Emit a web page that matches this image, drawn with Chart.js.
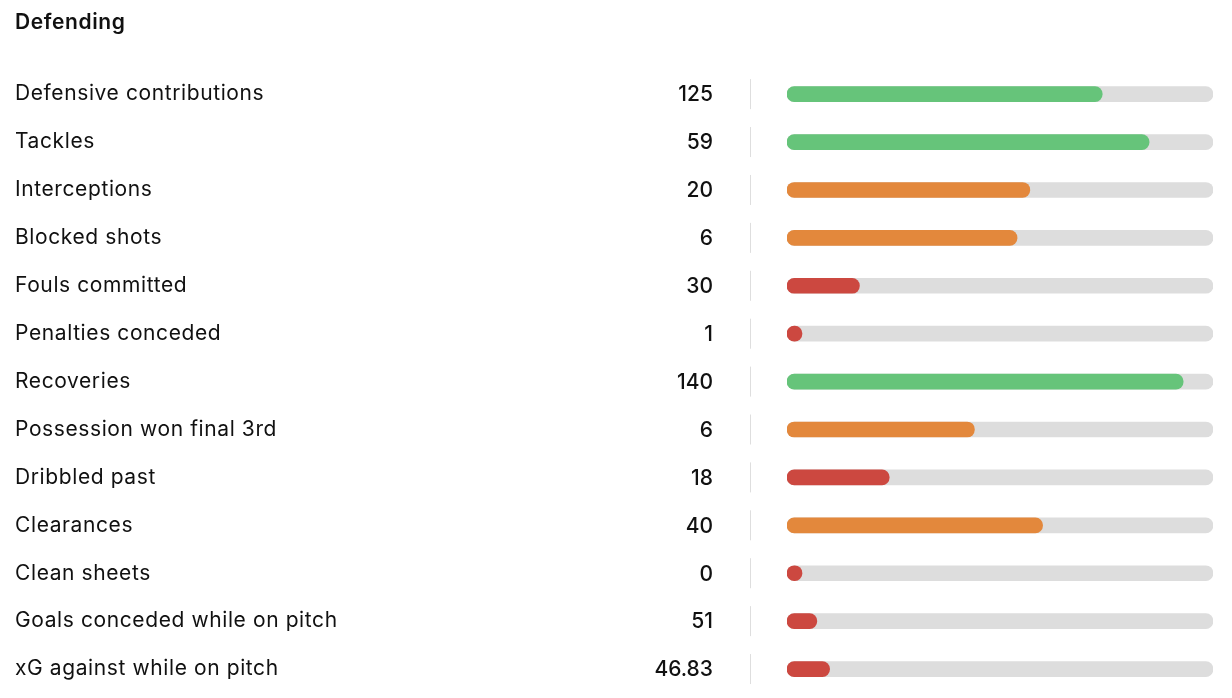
<!DOCTYPE html>
<html lang="en">
  <head>
    <meta charset="UTF-8" />
    <title>Defending</title>
    <style>
      html, body {
        margin: 0;
        padding: 0;
        background: #fff;
        overflow: hidden;
      }
      #chart-box {
        position: relative;
        width: 1232px;
        height: 698px;
      }
    </style>
  </head>
  <body>
    <div id="chart-box"><canvas id="myChart"></canvas></div>
    <script src="https://cdn.jsdelivr.net/npm/chart.js"></script>
    <script>
      const statNames = [
        'Defensive contributions',
        'Tackles',
        'Interceptions',
        'Blocked shots',
        'Fouls committed',
        'Penalties conceded',
        'Recoveries',
        'Possession won final 3rd',
        'Dribbled past',
        'Clearances',
        'Clean sheets',
        'Goals conceded while on pitch',
        'xG against while on pitch'
      ]
      const statValues = ['125', '59', '20', '6', '30', '1', '140', '6', '18', '40', '0', '51', '46.83']
      // percentile of each stat
      const percentiles = [74, 85, 57, 54, 17, 0, 93, 44, 24, 60, 0, 7, 10]
      const trackMax = 100

      const FONT = 'Inter, "Noto Sans", sans-serif'

      const barColor = (p) => {
        if (p >= 67) return '#66c47a'
        if (p >= 34) return '#e3883c'
        return '#cc4840'
      }

      // slightly wider text, closer to the original font
      const spacing = {
        id: 'spacing',
        beforeDraw(chart) {
          chart.ctx.letterSpacing = '0.6px'
        }
      }

      // draws the value column and the small divider line
      const valueColumn = {
        id: 'valueColumn',
        afterDatasetsDraw(chart) {
          const { ctx, scales } = chart
          const y = scales.y
          ctx.save()
          ctx.letterSpacing = '0px'
          ctx.font = '500 21px ' + FONT
          ctx.fillStyle = '#111'
          ctx.textAlign = 'right'
          ctx.textBaseline = 'middle'
          statValues.forEach((v, i) => {
            const cy = y.getPixelForValue(i)
            ctx.fillText(v, 713, cy + 1)
            ctx.strokeStyle = '#dedede'
            ctx.lineWidth = 1
            ctx.beginPath()
            ctx.moveTo(750.5, cy - 15)
            ctx.lineTo(750.5, cy + 15)
            ctx.stroke()
          })
          ctx.restore()
        }
      }

      const ctx = document.getElementById('myChart')
      const myChart = new Chart(ctx, {
        type: 'bar',
        data: {
          labels: statNames,
          datasets: [
            {
              data: percentiles,
              backgroundColor: percentiles.map(barColor),
              borderRadius: 8,
              borderSkipped: false,
              barThickness: 15,
              minBarLength: 15,
              grouped: false,
              order: 0
            },
            {
              data: statNames.map(() => trackMax),
              backgroundColor: '#dddddd',
              borderRadius: 8,
              borderSkipped: false,
              barThickness: 15,
              grouped: false,
              order: 1
            }
          ]
        },
        options: {
          indexAxis: 'y',
          responsive: true,
          maintainAspectRatio: false,
          animation: false,
          layout: {
            padding: { left: 15, right: 19, top: 0, bottom: 5 }
          },
          plugins: {
            legend: { display: false },
            tooltip: { enabled: false },
            title: {
              display: true,
              text: 'Defending',
              align: 'start',
              color: '#111',
              font: { family: FONT, size: 21, weight: '600', lineHeight: 1.2 },
              padding: { top: 10, bottom: 35 }
            }
          },
          scales: {
            x: {
              display: false,
              min: 0,
              max: trackMax
            },
            y: {
              grid: { display: false },
              border: { display: false },
              afterFit: (axis) => {
                axis.width = 787 - 15
              },
              ticks: {
                crossAlign: 'far',
                color: '#111',
                padding: 0,
                font: { family: FONT, size: 21, lineHeight: 0.4 }
              }
            }
          }
        },
        plugins: [spacing, valueColumn]
      })
    </script>
  </body>
</html>
